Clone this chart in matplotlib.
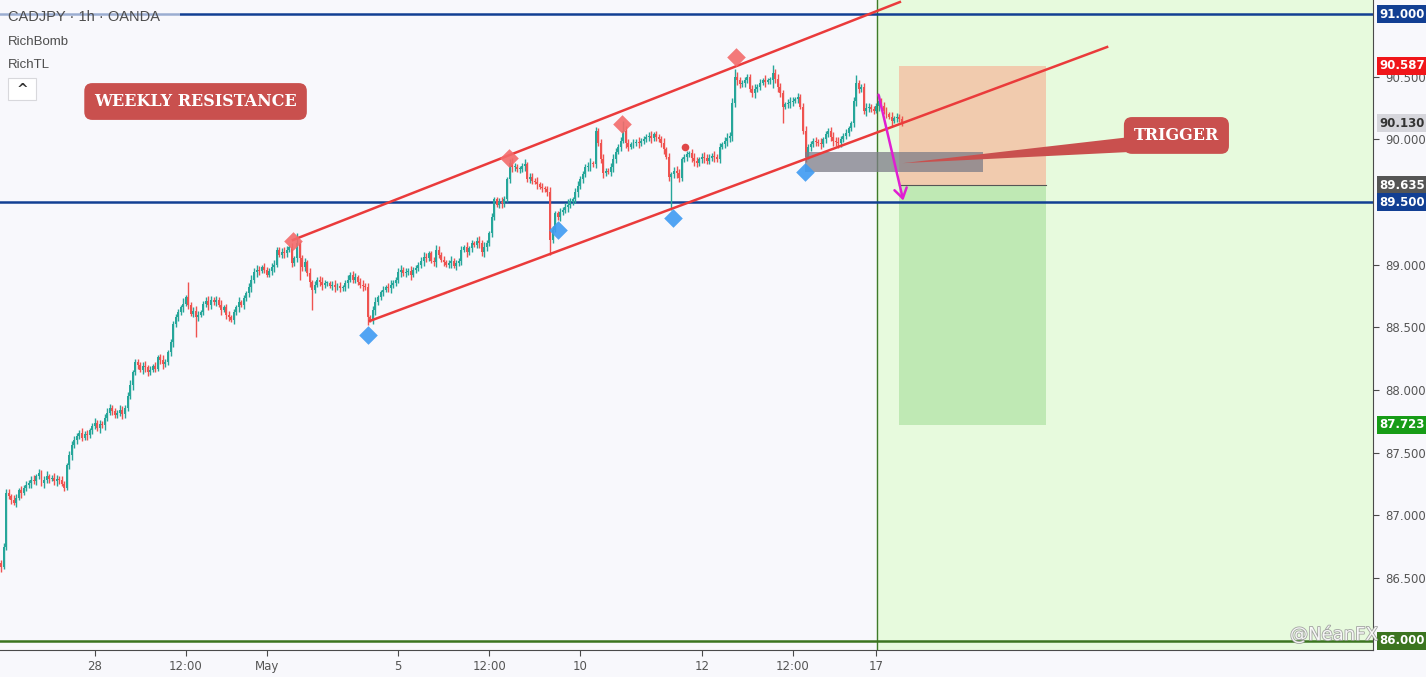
import numpy as np
import matplotlib
matplotlib.use('Agg')
import matplotlib.pyplot as plt
from matplotlib.patches import Rectangle, Polygon
import matplotlib.patheffects as pe

# CADJPY 1h closes, hundredths above 86.00 (one value per bar)
close_h = [
    59, 75, 118, 115, 112, 110, 114, 120, 118, 122,
    124, 126, 128, 127, 131, 134, 126, 128, 131, 129,
    130, 127, 129, 128, 125, 122, 140, 148, 156, 160,
    163, 166, 162, 165, 164, 168, 171, 174, 170, 173,
    172, 178, 182, 186, 183, 180, 182, 184, 181, 186,
    195, 204, 214, 222, 220, 216, 219, 218, 214, 216,
    219, 217, 226, 224, 221, 222, 230, 238, 253, 258,
    262, 266, 269, 274, 268, 261, 263, 258, 260, 262,
    269, 271, 268, 272, 270, 272, 268, 264, 266, 260,
    258, 256, 262, 266, 270, 268, 273, 277, 282, 288,
    294, 296, 295, 298, 296, 292, 295, 298, 300, 312,
    308, 310, 309, 312, 314, 301, 305, 317, 305, 298,
    302, 293, 286, 280, 284, 288, 286, 284, 285, 285,
    283, 284, 282, 283, 281, 282, 285, 288, 292, 288,
    290, 286, 284, 283, 282, 258, 256, 264, 270, 274,
    278, 280, 282, 281, 284, 285, 288, 294, 296, 293,
    294, 295, 292, 296, 297, 300, 303, 306, 305, 309,
    303, 302, 312, 308, 304, 302, 300, 301, 303, 299,
    301, 303, 312, 314, 310, 313, 317, 316, 319, 317,
    310, 314, 317, 325, 338, 352, 348, 350, 349, 352,
    368, 381, 378, 378, 376, 376, 379, 380, 368, 370,
    367, 366, 364, 362, 361, 360, 358, 320, 328, 341,
    338, 342, 344, 346, 348, 350, 352, 358, 363, 368,
    372, 378, 379, 381, 380, 407, 397, 384, 373, 375,
    374, 378, 384, 390, 394, 399, 407, 397, 394, 396,
    397, 398, 397, 399, 400, 402, 403, 401, 404, 402,
    400, 397, 392, 386, 370, 372, 375, 373, 369, 384,
    386, 388, 389, 385, 383, 381, 384, 386, 385, 383,
    385, 387, 386, 384, 394, 396, 399, 401, 403, 429,
    450, 447, 444, 445, 447, 450, 440, 437, 440, 442,
    445, 447, 446, 447, 447, 453, 448, 442, 437, 426,
    428, 429, 430, 431, 432, 434, 426, 407, 386, 394,
    396, 399, 398, 397, 396, 400, 404, 407, 402, 399,
    398, 397, 400, 403, 405, 409, 413, 431, 445, 440,
    442, 423, 425, 426, 424, 423, 427, 431, 427, 423,
    420, 418, 415, 417, 418, 416, 414,
]
first_open_h = 62

# wick lengths in hundredths, one base-36 digit per bar
up_wick = "".join([
    "2333243232", "3234232342", "2432322333", "3242323423", "2343232432",
    "3423323423", "2323432323", "3242c23432", "2343232423", "3232423234",
    "3432322342", "2343232823", "3242323432", "2342323423", "3234232342",
    "2323432342", "3242323432", "2343232342", "3232423234", "3432322343",
    "2343232423", "3242323432", "2323432343", "3234232342", "2343238432",
    "3242323423", "2342323432", "2323432343", "3242323434", "6432322342",
    "3242363432", "2343232342", "3232423234", "3432322362", "2343232423",
    "3242323",
])
dn_wick = "".join([
    "4232323242", "3242323423", "2343232342", "3232423234", "2432322343",
    "3242323432", "2323432343", "3242323g32", "2343232423", "3232423234",
    "3432322342", "23432323h3", "324g323432", "2342323423", "3234262342",
    "2323432342", "3242323432", "2343232342", "3232423234", "3432322343",
    "2343232423", "3242323c32", "2323432343", "3234232342", "2343232432",
    "3242323423", "23423q3432", "2323432343", "3242323434", "3432322342",
    "324236343d", "2343232342", "3232423234", "3432322343", "2343232423",
    "3242323",
])
assert len(close_h) == len(up_wick) == len(dn_wick)

tick_bars = [37, 73, 105, 157, 193, 229, 277, 313, 346]
tick_text = ['28', '12:00', 'May', '5', '12:00', '10', '12', '12:00', '17']
price_ticks = [86.5, 87.0, 87.5, 88.0, 88.5, 89.0, 90.0, 90.5]

res_levels = [91.0, 89.5]
floor_level = 86.0
session_bar = 346.3

upper_chan_x, upper_chan_y = [115.4, 355.3], [89.197, 91.096]
lower_chan_x, lower_chan_y = [145.8, 437.2], [88.551, 90.737]

pivot_hi_x, pivot_hi_y = [115.4, 200.8, 245.5, 290.5], [89.189, 89.851, 90.122, 90.657]
pivot_lo_x, pivot_lo_y = [145.1, 220.2, 265.6, 317.8], [88.439, 89.277, 89.372, 89.739]
dot_x, dot_y = 270.4, 89.939

pos_x0, pos_x1 = 354.9, 413.0
entry, stop, target = 89.635, 90.587, 87.723
zone_x0, zone_x1, zone_lo, zone_hi = 317.8, 388.1, 89.739, 89.899
arrow_from, arrow_to = (346.6, 90.378), (356.9, 89.49)

last_price = 90.130

# tags on the price scale: value, background, text colour
tags = [
    (91.000, '#123f93', 'white'),
    (90.587, '#f0161a', 'white'),
    (last_price, '#d6d6dc', '#333333'),
    (entry, '#555555', 'white'),
    (89.500, '#123f93', 'white'),
    (target, '#179c17', 'white'),
    (86.000, '#3b7420', 'white'),
]

# ---- build candles
c = 86 + np.array(close_h) / 100
o = np.r_[86 + first_open_h / 100, c[:-1]]
uw = np.array([int(ch, 36) for ch in up_wick]) / 100
dw = np.array([int(ch, 36) for ch in dn_wick]) / 100
hi = np.maximum(o, c) + uw
lo = np.minimum(o, c) - dw
x = np.arange(len(c))
up = c >= o

bg = '#f8f8fc'
fig = plt.figure(figsize=(14.26, 6.77), dpi=100, facecolor=bg)
ax = fig.add_axes([0, 27 / 677, 1373 / 1426, 650 / 677])
ax.set_facecolor(bg)
ax.set_xlim(-0.4, 542.3)
ax.set_ylim(85.925, 91.112)

# session highlight
ax.axvspan(session_bar, 542.3, color='#e7fadd', zorder=0)
ax.axvline(session_bar, color='#3f7a2a', lw=1, zorder=1)

# long position tool boxes
ax.add_patch(Rectangle((pos_x0, entry), pos_x1 - pos_x0, stop - entry,
                       fc='#f1cbae', ec='none', zorder=1))
ax.add_patch(Rectangle((pos_x0, target), pos_x1 - pos_x0, entry - target,
                       fc='#bfe9b4', ec='none', zorder=1))
ax.plot([pos_x0, pos_x1], [entry, entry], color='#555555', lw=0.8, zorder=1.5)

# horizontal levels
for lvl in res_levels:
    ax.axhline(lvl, color='#123f93', lw=1.8, zorder=2)
ax.axhline(floor_level, color='#3b7420', lw=1.8, zorder=2)

# candles
col = np.where(up, '#26a69a', '#ef5350')
ax.vlines(x, lo, hi, colors=col, lw=1.0, zorder=3)
body = np.maximum(np.abs(c - o), 0.008)
ax.bar(x, body, bottom=np.minimum(o, c), width=0.78, color=col, lw=0, zorder=3)

# gray zone
ax.add_patch(Rectangle((zone_x0, zone_lo), zone_x1 - zone_x0, zone_hi - zone_lo,
                       fc='#7d7d88', ec='none', alpha=0.75, zorder=4))

# channel
ax.plot(upper_chan_x, upper_chan_y, color='#ea3b3b', lw=1.8, zorder=5)
ax.plot(lower_chan_x, lower_chan_y, color='#ea3b3b', lw=1.8, zorder=5)

# pivots
ax.scatter(pivot_hi_x, pivot_hi_y, marker='D', s=90, color='#f36b6b', alpha=0.9, lw=0, zorder=6)
ax.scatter(pivot_lo_x, pivot_lo_y, marker='D', s=90, color='#3f9bf2', alpha=0.9, lw=0, zorder=6)
ax.scatter([dot_x], [dot_y], marker='o', s=30, color='#e04848', lw=0, zorder=6)

# arrow
ax.annotate('', xy=arrow_to, xytext=arrow_from,
            arrowprops=dict(arrowstyle='->,head_length=0.7,head_width=0.45',
                            color='#e01ed2', lw=1.8), zorder=7)

# labels
red_box = '#c9504e'
ax.text(76.9, 90.302, 'WEEKLY RESISTANCE', ha='center', va='center',
        fontsize=11.5, fontweight='bold', family='DejaVu Serif', color='white',
        bbox=dict(boxstyle='round,pad=0.62,rounding_size=0.5', fc=red_box, ec='none'),
        zorder=8)
ax.add_patch(Polygon([[356.5, 89.81], [447, 90.02], [447, 89.9]],
                     closed=True, fc=red_box, ec='none', zorder=7))
ax.text(464.6, 90.031, 'TRIGGER', ha='center', va='center',
        fontsize=11.5, fontweight='bold', family='DejaVu Serif', color='white',
        bbox=dict(boxstyle='round,pad=0.62,rounding_size=0.5', fc=red_box, ec='none'),
        zorder=8)

# axes styling
for s in ['top', 'left']:
    ax.spines[s].set_visible(False)
ax.spines['right'].set_color('#4a4a4a')
ax.spines['bottom'].set_color('#4a4a4a')
ax.yaxis.tick_right()
ax.set_yticks(price_ticks)
ax.set_yticklabels(['%.3f' % p for p in price_ticks])
ax.set_xticks(tick_bars)
ax.set_xticklabels(tick_text)
ax.tick_params(axis='both', colors='#4a4a4a', labelcolor='#555555', labelsize=8.5,
               length=4, width=0.8)
ax.tick_params(axis='y', pad=5)
ax.tick_params(axis='x', pad=3)

ytr = ax.get_yaxis_transform()
for val, bgc, fgc in tags:
    ax.text(1.0048, val, '%.3f' % val, transform=ytr, ha='left', va='center',
            fontsize=8.5, fontweight='bold', color=fgc, clip_on=False,
            bbox=dict(boxstyle='square,pad=0.22', fc=bgc, ec='none'), zorder=10)

# legend area (top-left)
fig.add_artist(Rectangle((0, 1 - 28 / 677), 180 / 1426, 28 / 677, transform=fig.transFigure,
                         fc=bg, ec='none', alpha=0.6, zorder=9))
fig.text(8 / 1426, 1 - 17 / 677, 'CADJPY \u00b7 1h \u00b7 OANDA', fontsize=10.5,
         family='Liberation Sans', color='#4d4d4d', va='center', zorder=10)
fig.text(8 / 1426, 1 - 42 / 677, 'RichBomb', fontsize=9.5,
         family='Liberation Sans', color='#4d4d4d', va='center', zorder=10)
fig.text(8 / 1426, 1 - 65 / 677, 'RichTL', fontsize=9.5,
         family='Liberation Sans', color='#4d4d4d', va='center', zorder=10)
fig.add_artist(Rectangle((8 / 1426, 1 - 100 / 677), 28 / 1426, 22 / 677, transform=fig.transFigure,
                         fc='white', ec='#d8d8dc', lw=0.8, zorder=9))
fig.text(22 / 1426, 1 - 90 / 677, '^', fontsize=10, fontweight='bold', color='#333333',
         ha='center', va='center', zorder=10)

# watermark
fig.text(1290 / 1426, 1 - 635 / 677, '@N\u00e9anFX', fontsize=13, color='white',
         ha='left', va='center', alpha=0.9, zorder=11,
         path_effects=[pe.withStroke(linewidth=1.2, foreground='#9a9a9a')])

fig.savefig('out.png', dpi=100, facecolor=bg)
